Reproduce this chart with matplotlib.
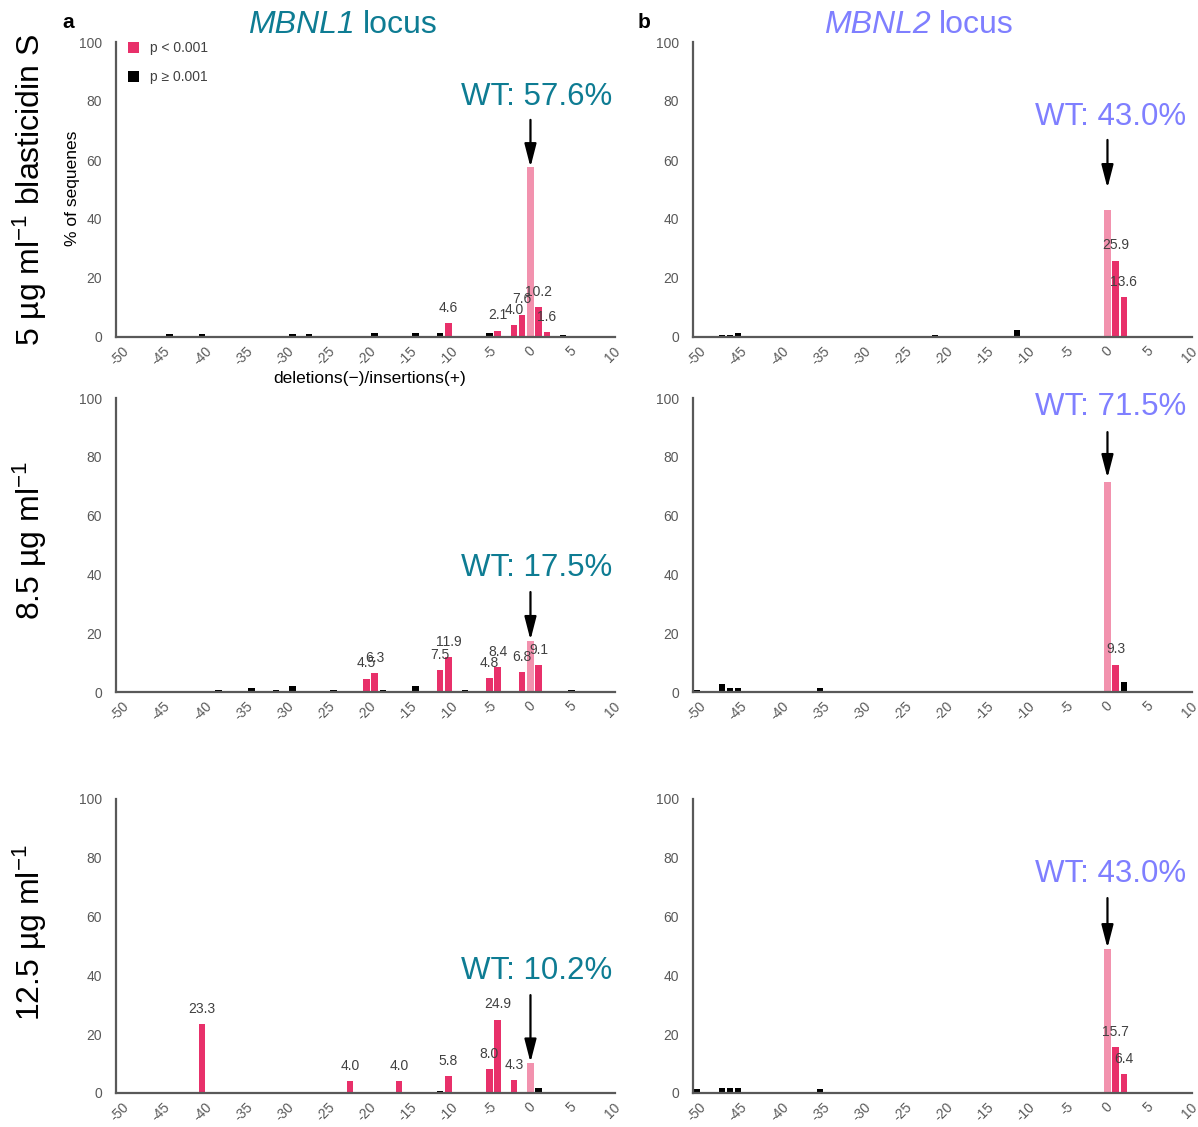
import matplotlib
matplotlib.use("Agg")
import matplotlib.pyplot as plt
from matplotlib.patches import Patch

plt.rcParams['font.family'] = ['Liberation Sans', 'DejaVu Sans']
plt.rcParams['mathtext.fontset'] = 'custom'
plt.rcParams['mathtext.rm'] = 'Liberation Sans'
plt.rcParams['mathtext.it'] = 'Liberation Sans:italic'
plt.rcParams['mathtext.bf'] = 'Liberation Sans:bold'

# ---------------- data ----------------
# 's' = p < 0.001, 'n' = p >= 0.001, 'w' = wild type
mbnl1_5_pos = [-44, -40, -38, -37, -34, -29, -27, -26, -22, -20, -19, -14, -11, -10, -7, -5, -4, -2, -1, 0, 1, 2, 4]
mbnl1_5_val = [1.0, 1.0, 0.3, 0.3, 0.3, 1.0, 1.0, 0.3, 0.3, 0.3, 1.5, 1.5, 1.5, 4.6, 0.3, 1.5, 2.1, 4.0, 7.6, 57.6, 10.2, 1.6, 0.8]
mbnl1_5_sig = ['n', 'n', 'n', 'n', 'n', 'n', 'n', 'n', 'n', 'n', 'n', 'n', 'n', 's', 'n', 'n', 's', 's', 's', 'w', 's', 's', 'n']

mbnl1_85_pos = [-47, -38, -35, -34, -32, -31, -29, -24, -20, -19, -18, -17, -14, -11, -10, -8, -5, -4, -1, 0, 1, 2, 4, 5, 7]
mbnl1_85_val = [0.3, 0.8, 0.3, 1.2, 0.3, 0.8, 2.1, 0.8, 4.5, 6.3, 0.8, 0.3, 2.1, 7.5, 11.9, 0.8, 4.8, 8.4, 6.8, 17.5, 9.1, 0.3, 0.3, 0.8, 0.3]
mbnl1_85_sig = ['n', 'n', 'n', 'n', 'n', 'n', 'n', 'n', 's', 's', 'n', 'n', 'n', 's', 's', 'n', 's', 's', 's', 'w', 's', 'n', 'n', 'n', 'n']

mbnl1_125_pos = [-44, -40, -39, -22, -16, -11, -10, -5, -4, -2, 0, 1]
mbnl1_125_val = [0.3, 23.3, 0.3, 4.0, 4.0, 0.8, 5.8, 8.0, 24.9, 4.3, 10.2, 1.6]
mbnl1_125_sig = ['n', 's', 'n', 's', 's', 'n', 's', 's', 's', 's', 'w', 'n']

mbnl2_5_pos = [-50, -47, -46, -45, -35, -21, -18, -15, -11, -9, 0, 1, 2]
mbnl2_5_val = [0.3, 0.8, 0.8, 1.2, 0.3, 0.8, 0.3, 0.3, 2.5, 0.3, 43.0, 25.9, 13.6]
mbnl2_5_sig = ['n', 'n', 'n', 'n', 'n', 'n', 'n', 'n', 'n', 'n', 'w', 's', 's']

mbnl2_85_pos = [-50, -47, -46, -45, -44, -35, 0, 1, 2]
mbnl2_85_val = [0.8, 2.6, 1.2, 1.2, 0.3, 1.2, 71.5, 9.3, 3.5]
mbnl2_85_sig = ['n', 'n', 'n', 'n', 'n', 'n', 'w', 's', 'n']

mbnl2_125_pos = [-50, -47, -46, -45, -44, -43, -35, -6, 0, 1, 2]
mbnl2_125_val = [1.2, 1.8, 1.8, 1.8, 0.3, 0.3, 1.2, 0.3, 49.0, 15.7, 6.4]
mbnl2_125_sig = ['n', 'n', 'n', 'n', 'n', 'n', 'n', 'n', 'w', 's', 's']

wt_labels = ['WT: 57.6%', 'WT: 43.0%', 'WT: 17.5%', 'WT: 71.5%', 'WT: 10.2%', 'WT: 43.0%']
x_ticks = [-50, -45, -40, -35, -30, -25, -20, -15, -10, -5, 0, 5, 10]
y_ticks = [0, 20, 40, 60, 80, 100]
row_labels = [r'5 µg ml$^{-1}$ blasticidin S', r'8.5 µg ml$^{-1}$', r'12.5 µg ml$^{-1}$']
gene_names = ['MBNL1', 'MBNL2']
locus_word = 'locus'
legend_labels = ['p < 0.001', 'p ≥ 0.001']

panels = [
    (mbnl1_5_pos, mbnl1_5_val, mbnl1_5_sig),
    (mbnl2_5_pos, mbnl2_5_val, mbnl2_5_sig),
    (mbnl1_85_pos, mbnl1_85_val, mbnl1_85_sig),
    (mbnl2_85_pos, mbnl2_85_val, mbnl2_85_sig),
    (mbnl1_125_pos, mbnl1_125_val, mbnl1_125_sig),
    (mbnl2_125_pos, mbnl2_125_val, mbnl2_125_sig),
]

# ---------------- style ----------------
RED = '#E8306A'
PINK = '#F292AE'
BLACK = '#000000'
TEAL = '#0E7C93'
LAV = '#7F7FFF'
GRAY = '#595959'
colmap = {'s': RED, 'n': BLACK, 'w': PINK}

W, H = 1198, 1127
fig = plt.figure(figsize=(W / 100, H / 100), dpi=100)

col_left = [116 / W, 693 / W]
col_w = 499 / W
row_bottom = [1 - 337 / H, 1 - 692 / H, 1 - 1093 / H]
row_h = [295 / H, 294 / H, 294 / H]

# WT annotation geometry (text y, arrow start, arrow tip in data units), text right x
wt_geom = [
    (81.4, 73.6, 57.6, 10.0),
    (74.6, 66.8, 50.5, 9.6),
    (42.2, 34.0, 17.7, 10.0),
    (96.9, 88.4, 72.8, 9.6),
    (41.5, 33.3, 10.4, 10.0),
    (74.5, 66.3, 49.3, 9.6),
]

axes = []
for i, (pos, val, sig) in enumerate(panels):
    r, c = divmod(i, 2)
    ax = fig.add_axes([col_left[c], row_bottom[r], col_w, row_h[r]])
    axes.append(ax)
    colors = [colmap[s] for s in sig]
    ax.bar(pos, val, width=0.78, color=colors, linewidth=0, zorder=2)
    for p, v, s in zip(pos, val, sig):
        if s == 's':
            ax.annotate(f'{v:.1f}', xy=(p, v), xytext=(0, 6), textcoords='offset points',
                        ha='center', va='bottom', fontsize=10, color='#404040', zorder=3)
    ax.set_xlim(-50.5, 10.3)
    ax.set_ylim(0, 100)
    ax.set_xticks(x_ticks)
    ax.set_xticklabels([str(t) for t in x_ticks], rotation=45, fontsize=10, color=GRAY)
    ax.set_yticks(y_ticks)
    ax.set_yticklabels([str(t) for t in y_ticks], fontsize=10, color=GRAY)
    ax.tick_params(axis='both', length=0)
    ax.tick_params(axis='x', pad=5)
    ax.tick_params(axis='y', pad=10)
    for sp in ['top', 'right']:
        ax.spines[sp].set_visible(False)
    for sp in ['left', 'bottom']:
        ax.spines[sp].set_color(GRAY)
        ax.spines[sp].set_linewidth(1.6)
    ax.patch.set_alpha(0)

    ty, a0, a1, tx = wt_geom[i]
    tcol = TEAL if c == 0 else LAV
    ax.text(tx, ty, wt_labels[i], ha='right', va='center', fontsize=22.5, color=tcol)
    ax.annotate('', xy=(0, a1), xytext=(0, a0),
                arrowprops=dict(arrowstyle='-|>,head_length=1.4,head_width=0.36',
                                color='black', lw=1.6, mutation_scale=10,
                                shrinkA=0, shrinkB=0), zorder=4)

# legend on top-left panel
handles = [Patch(facecolor=RED, edgecolor='none'), Patch(facecolor=BLACK, edgecolor='none')]
axes[0].legend(handles, legend_labels, loc='upper left', bbox_to_anchor=(0.012, 1.022),
               frameon=False, fontsize=10, handlelength=0.85, handleheight=0.85,
               handletextpad=0.8, labelspacing=1.1, borderaxespad=0,
               labelcolor='#404040')

# axis labels (top-left panel only)
fig.text(72 / W, 1 - 188 / H, '% of sequenes', rotation=90, ha='center', va='center',
         fontsize=12.5, color='black')
fig.text(370 / W, 1 - 378 / H, 'deletions(−)/insertions(+)', ha='center', va='center',
         fontsize=12.5, color='black')

# row labels
row_centers = [190, 540, 933]
for lab, yc in zip(row_labels, row_centers):
    fig.text(30 / W, 1 - yc / H, lab, rotation=90, ha='center', va='center', fontsize=23)

# column titles (italic gene name + upright "locus")
title_split = [355, 931]
title_cols = [TEAL, LAV]
for g, xs, tc in zip(gene_names, title_split, title_cols):
    fig.text(xs / W, 1 - 25 / H, g, ha='right', va='center', fontsize=23,
             color=tc, style='italic')
    fig.text((xs + 8) / W, 1 - 25 / H, locus_word, ha='left', va='center', fontsize=23,
             color=tc)

# panel letters
fig.text(68 / W, 1 - 22 / H, 'a', ha='center', va='center', fontsize=15, weight='bold')
fig.text(644 / W, 1 - 22 / H, 'b', ha='center', va='center', fontsize=15, weight='bold')

fig.savefig('out.png', dpi=100, facecolor='white')
